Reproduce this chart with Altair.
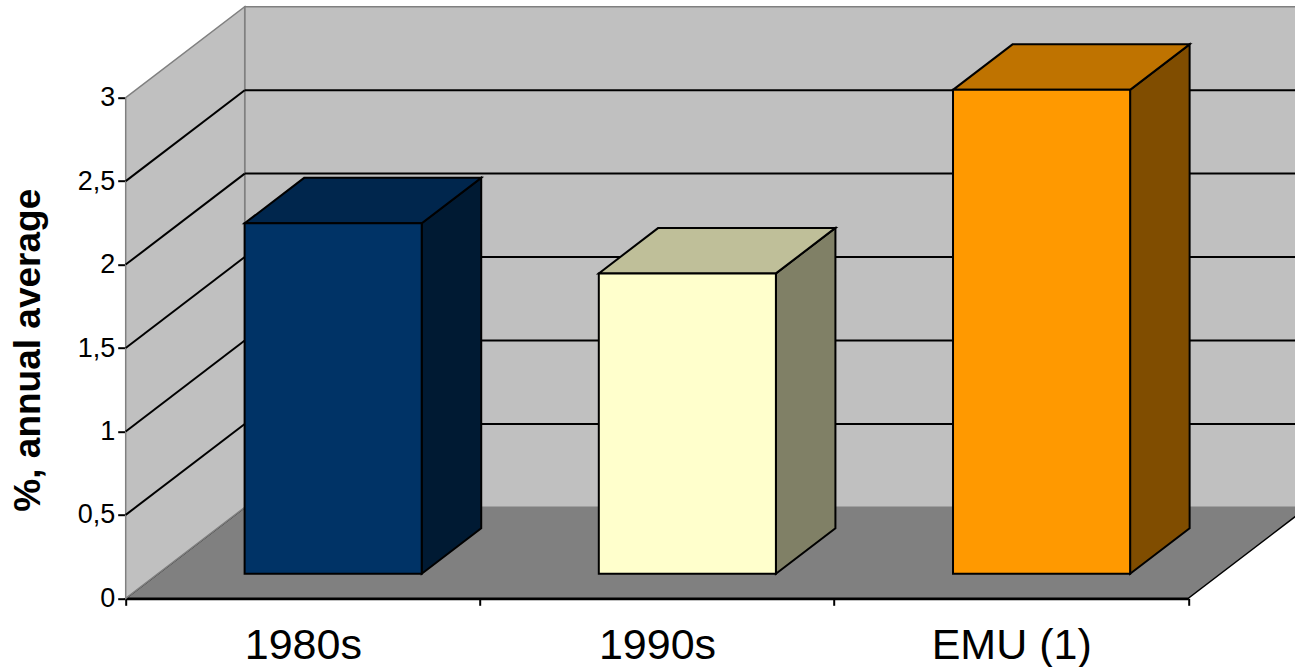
import altair as alt
import pandas as pd

# ---- data -------------------------------------------------------------
categories = ["1980s", "1990s", "EMU (1)"]
values = [2.1, 1.8, 2.9]
front_colors = ["#003366", "#FFFFCC", "#FF9900"]
top_colors = ["#00264D", "#BFBF99", "#BF7300"]
side_colors = ["#001A33", "#808066", "#804D00"]
y_ticks = [0, 0.5, 1, 1.5, 2, 2.5, 3]
y_title = "%, annual average"

# ---- pseudo-3D layout (in data units) ---------------------------------
Y_MAX = 3.0
N = len(categories)
DX = 0.336      # horizontal shift of the full depth, in category units
DY = 0.545      # vertical shift of the full depth, in value units
FRONT = 0.27    # depth at which the bars start
DEPTH = 0.5     # depth of each bar
GAP = 0.245     # left gap inside each category
BAR_W = 0.5     # bar width in category units

fx, fy = FRONT * DX, FRONT * DY
sx, sy = DEPTH * DX, DEPTH * DY

FONT = "Liberation Sans"

x_labels_js = "[" + ",".join("'%s'" % c for c in categories) + "]"

x_scale = alt.Scale(domain=[0, N], nice=False, zero=False)
y_scale = alt.Scale(domain=[0, Y_MAX], nice=False, zero=False)

x_axis = alt.Axis(
    values=[i * 0.5 for i in range(2 * N + 1)],
    title=None,
    grid=False,
    domain=True,
    domainColor="black",
    domainWidth=3,
    ticks=True,
    tickSize=7,
    tickWidth=2,
    tickColor="black",
    tickOpacity={"condition": {"test": "datum.value % 1 === 0", "value": 1}, "value": 0},
    labelExpr="datum.value % 1 === 0 ? '' : " + x_labels_js + "[floor(datum.value)]",
    labelFont=FONT,
    labelFontSize=43,
    labelColor="black",
    labelBaseline="alphabetic",
    labelPadding=53,
    labelOverlap=False,
    labelFlush=False,
    labelBound=False,
)

y_axis = alt.Axis(
    values=y_ticks,
    title=y_title,
    titleFont=FONT,
    titleFontSize=37,
    titleFontWeight="bold",
    titleColor="black",
    titleAngle=270,
    titleAlign="center",
    titleBaseline="middle",
    titleX=-97,
    titleY=252,
    grid=False,
    domain=True,
    domainColor="black",
    domainWidth=2,
    tickSize=8,
    tickWidth=2,
    tickColor="black",
    labelExpr="replace(toString(datum.value), '.', ',')",
    labelFont=FONT,
    labelFontSize=27,
    labelColor="black",
    labelPadding=3,
    labelOverlap=False,
    labelFlush=False,
)


def X(f):
    return alt.X(f, type="quantitative", scale=x_scale, axis=x_axis, stack=None)


def Y(f):
    return alt.Y(f, type="quantitative", scale=y_scale, axis=y_axis, stack=None)


# ---- walls and floor --------------------------------------------------
floor = pd.DataFrame({"y": [0, DY], "x": [0, DX], "x2": [N, N + DX]})
left_wall = pd.DataFrame({"x": [0, DX], "y": [0, DY], "y2": [Y_MAX, Y_MAX + DY]})
back_wall = pd.DataFrame({"x": [DX], "x2": [N + DX], "y": [DY], "y2": [Y_MAX + DY]})

grid_vals = [t for t in y_ticks if 0 < t < Y_MAX]
grid = pd.DataFrame(
    {
        "x": [DX] * len(grid_vals) + [0] * len(grid_vals),
        "x2": [N + DX] * len(grid_vals) + [DX] * len(grid_vals),
        "y": [v + DY for v in grid_vals] + grid_vals,
        "y2": [v + DY for v in grid_vals] * 2,
    }
)

floor_layer = alt.Chart(floor).mark_area(
    orient="horizontal", color="#808080", stroke="black", strokeWidth=1.5
).encode(y=Y("y"), x=X("x"), x2="x2")

left_wall_layer = alt.Chart(left_wall).mark_area(
    orient="vertical", color="#C0C0C0", stroke="#808080", strokeWidth=1.5
).encode(x=X("x"), y=Y("y"), y2="y2")

back_wall_layer = alt.Chart(back_wall).mark_rect(
    color="#C0C0C0", stroke="#808080", strokeWidth=1.5
).encode(x=X("x"), x2="x2", y=Y("y"), y2="y2")

grid_layer = alt.Chart(grid).mark_rule(color="black", strokeWidth=2).encode(
    x=X("x"), x2="x2", y=Y("y"), y2="y2"
)

# ---- bars -------------------------------------------------------------
front_rows, side_rows, top_rows = [], [], []
for i, (cat, v) in enumerate(zip(categories, values)):
    xl = i + GAP + fx
    xr = xl + BAR_W
    front_rows.append(
        {"cat": cat, "x": xl, "x2": xr, "y": fy, "y2": v + fy, "c": front_colors[i]}
    )
    side_rows += [
        {"cat": cat, "x": xr, "y": fy, "y2": v + fy, "c": side_colors[i]},
        {"cat": cat, "x": xr + sx, "y": fy + sy, "y2": v + fy + sy, "c": side_colors[i]},
    ]
    top_rows += [
        {"cat": cat, "y": v + fy, "x": xl, "x2": xr, "c": top_colors[i]},
        {"cat": cat, "y": v + fy + sy, "x": xl + sx, "x2": xr + sx, "c": top_colors[i]},
    ]

side_layer = alt.Chart(pd.DataFrame(side_rows)).mark_area(
    orient="vertical", stroke="black", strokeWidth=2, opacity=1
).encode(
    x=X("x"), y=Y("y"), y2="y2",
    detail="cat:N",
    fill=alt.Fill("c:N", scale=None),
)

top_layer = alt.Chart(pd.DataFrame(top_rows)).mark_area(
    orient="horizontal", stroke="black", strokeWidth=2, opacity=1
).encode(
    y=Y("y"), x=X("x"), x2="x2",
    detail="cat:N",
    fill=alt.Fill("c:N", scale=None),
)

front_layer = alt.Chart(pd.DataFrame(front_rows)).mark_rect(
    stroke="black", strokeWidth=2
).encode(
    x=X("x"), x2="x2", y=Y("y"), y2="y2",
    fill=alt.Fill("c:N", scale=None),
)

chart = (
    alt.layer(
        floor_layer,
        back_wall_layer,
        left_wall_layer,
        grid_layer,
        side_layer,
        top_layer,
        front_layer,
    )
    .properties(
        width=1062.6,
        height=500.6,
        padding={"left": 125.7, "top": 97.7, "right": 106.7, "bottom": 68.7},
        autosize=alt.AutoSizeParams(type="none"),
        background="white",
    )
    .configure_view(stroke=None)
)

chart.save("out.html", embed_options={"renderer": "svg", "actions": False})
